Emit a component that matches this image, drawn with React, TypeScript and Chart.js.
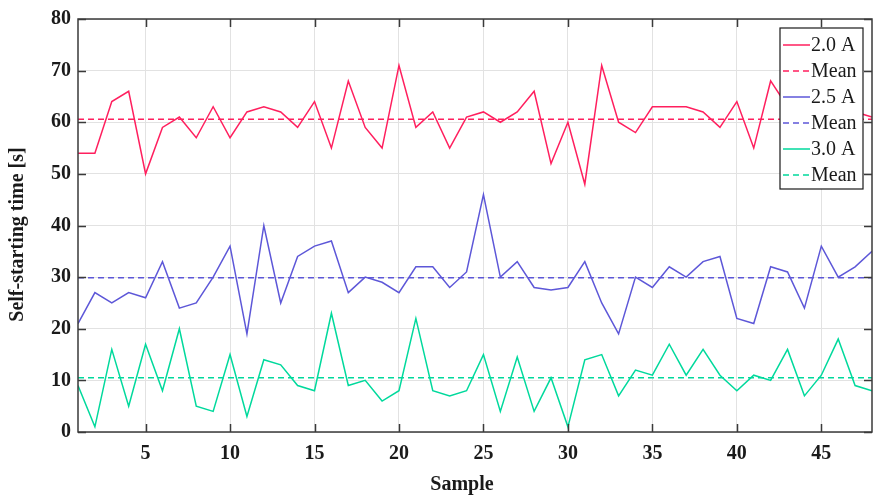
import { useEffect, useRef } from 'react';
import { Chart, registerables, type ChartConfiguration, type Plugin } from 'chart.js';

Chart.register(...registerables);

// ── Design tokens ──────────────────────────────────────────────────────────────

const FONT = '"Liberation Serif", "Times New Roman", serif';

const C = {
  red:   '#ff1f5e',
  blue:  '#5d57d8',
  green: '#00d99c',
  grid:  '#e2e2e2',
  axis:  '#3a3a3a',
  text:  '#1a1a1a',
} as const;

// ── Data ───────────────────────────────────────────────────────────────────────

const SAMPLES = [
  1, 2, 3, 4, 5, 6, 7, 8, 9, 10, 11, 12, 13, 14, 15, 16,
  17, 18, 19, 20, 21, 22, 23, 24, 25, 26, 27, 28, 29, 30, 31, 32,
  33, 34, 35, 36, 37, 38, 39, 40, 41, 42, 43, 44, 45, 46, 47, 48,
];

const TIME_20A = [
  54, 54, 64, 66, 50, 59, 61, 57, 63, 57,
  62, 63, 62, 59, 64, 55, 68, 59, 55, 71,
  59, 62, 55, 61, 62, 60, 62, 66, 52, 60,
  48, 71, 60, 58, 63, 63, 63, 62, 59, 64,
  55, 68, 63, 60, 64, 58, 62, 61,
];

const TIME_25A = [
  21, 27, 25, 27, 26, 33, 24, 25, 30, 36,
  19, 40, 25, 34, 36, 37, 27, 30, 29, 27,
  32, 32, 28, 31, 46, 30, 33, 28, 27.5, 28,
  33, 25, 19, 30, 28, 32, 30, 33, 34, 22,
  21, 32, 31, 24, 36, 30, 32, 35,
];

const TIME_30A = [
  9, 1, 16, 5, 17, 8, 20, 5, 4, 15,
  3, 14, 13, 9, 8, 23, 9, 10, 6, 8,
  22, 8, 7, 8, 15, 4, 14.5, 4, 10.5, 1,
  14, 15, 7, 12, 11, 17, 11, 16, 11, 8,
  11, 10, 16, 7, 11, 18, 9, 8,
];

const MEAN_20A = 60.6;
const MEAN_25A = 29.9;
const MEAN_30A = 10.5;

const X_TICKS = [5, 10, 15, 20, 25, 30, 35, 40, 45];
const Y_TICKS = [0, 10, 20, 30, 40, 50, 60, 70, 80];

// ── Helpers ────────────────────────────────────────────────────────────────────

const toPoints = (values: number[]) => SAMPLES.map((s, i) => ({ x: s, y: values[i] }));
const meanLine = (m: number) => [
  { x: SAMPLES[0], y: m },
  { x: SAMPLES[SAMPLES.length - 1], y: m },
];

// Box frame with inward ticks, axis titles, and legend inside the top-right corner
const framePlugin: Plugin<'line'> = {
  id: 'frameAndLegend',
  afterDatasetsDraw(chart) {
    const { ctx, chartArea: a, scales } = chart;
    const xs = scales.x;
    const ys = scales.y;
    ctx.save();

    // frame
    ctx.strokeStyle = C.axis;
    ctx.lineWidth = 1.5;
    ctx.strokeRect(a.left, a.top, a.right - a.left, a.bottom - a.top);

    // inward ticks
    ctx.beginPath();
    X_TICKS.forEach((v) => {
      const px = Math.round(xs.getPixelForValue(v)) + 0.5;
      ctx.moveTo(px, a.bottom); ctx.lineTo(px, a.bottom - 8);
      ctx.moveTo(px, a.top);    ctx.lineTo(px, a.top + 8);
    });
    Y_TICKS.forEach((v) => {
      const py = Math.round(ys.getPixelForValue(v)) + 0.5;
      ctx.moveTo(a.left, py);  ctx.lineTo(a.left + 8, py);
      ctx.moveTo(a.right, py); ctx.lineTo(a.right - 8, py);
    });
    ctx.stroke();

    // axis titles
    ctx.fillStyle = C.text;
    ctx.font = `bold 20px ${FONT}`;
    ctx.textAlign = 'center';
    ctx.textBaseline = 'middle';
    ctx.fillText('Sample', (a.left + a.right) / 2 - 13, 485);
    ctx.save();
    ctx.translate(18, (a.top + a.bottom) / 2 + 9);
    ctx.rotate(-Math.PI / 2);
    ctx.fillText('Self-starting time [s]', 0, 0);
    ctx.restore();

    // legend
    const boxW = 83;
    const rowH = 26;
    const sets = chart.data.datasets;
    const boxH = rowH * sets.length + 5;
    const bx = a.right - 9 - boxW;
    const by = a.top + 9;
    ctx.fillStyle = '#ffffff';
    ctx.fillRect(bx, by, boxW, boxH);
    ctx.strokeStyle = C.text;
    ctx.lineWidth = 1.2;
    ctx.strokeRect(bx, by, boxW, boxH);

    ctx.font = `20px ${FONT}`;
    ctx.textBaseline = 'middle';
    ctx.textAlign = 'left';
    sets.forEach((ds, i) => {
      const cy = by + 17 + i * rowH;
      ctx.strokeStyle = ds.borderColor as string;
      ctx.lineWidth = 1.5;
      ctx.setLineDash((ds as any).borderDash ?? []);
      ctx.beginPath();
      ctx.moveTo(bx + 3, cy);
      ctx.lineTo(bx + 30, cy);
      ctx.stroke();
      ctx.setLineDash([]);
      ctx.fillStyle = C.text;
      ctx.fillText(ds.label ?? '', bx + 31, cy + 1);
    });

    ctx.restore();
  },
};

// ── Chart ──────────────────────────────────────────────────────────────────────

function SelfStartingChart() {
  const canvasRef = useRef<HTMLCanvasElement>(null);

  useEffect(() => {
    const canvas = canvasRef.current;
    if (!canvas) return;

    const solid = { borderWidth: 1.5, pointRadius: 0, tension: 0, fill: false };
    const dashed = { ...solid, borderDash: [6, 4] };

    const config: ChartConfiguration<'line'> = {
      type: 'line',
      data: {
        datasets: [
          { label: '2.0 A', data: toPoints(TIME_20A), borderColor: C.red,   ...solid },
          { label: 'Mean',  data: meanLine(MEAN_20A), borderColor: C.red,   ...dashed },
          { label: '2.5 A', data: toPoints(TIME_25A), borderColor: C.blue,  ...solid },
          { label: 'Mean',  data: meanLine(MEAN_25A), borderColor: C.blue,  ...dashed },
          { label: '3.0 A', data: toPoints(TIME_30A), borderColor: C.green, ...solid },
          { label: 'Mean',  data: meanLine(MEAN_30A), borderColor: C.green, ...dashed },
        ],
      },
      options: {
        responsive: true,
        maintainAspectRatio: false,
        animation: false,
        layout: { padding: { top: 16, right: 10, left: 0, bottom: 0 } },
        plugins: {
          legend: { display: false },
          tooltip: { enabled: false },
        },
        scales: {
          x: {
            type: 'linear',
            min: 1,
            max: 48,
            afterBuildTicks: (s) => { s.ticks = X_TICKS.map((v) => ({ value: v })); },
            afterFit: (s) => { s.height = 72; },
            grid: { color: C.grid, lineWidth: 1, drawTicks: false },
            border: { display: false },
            ticks: {
              color: C.text,
              padding: 10,
              maxRotation: 0,
              font: { family: FONT, size: 20, weight: 'bold' },
            },
          },
          y: {
            min: 0,
            max: 80,
            afterBuildTicks: (s) => { s.ticks = Y_TICKS.map((v) => ({ value: v })); },
            afterFit: (s) => { s.width = 78; },
            grid: { color: C.grid, lineWidth: 1, drawTicks: false },
            border: { display: false },
            ticks: {
              color: C.text,
              padding: 7,
              font: { family: FONT, size: 20, weight: 'bold' },
            },
          },
        },
      },
      plugins: [framePlugin],
    };

    const chart = new Chart(canvas, config);
    return () => { chart.destroy(); };
  }, []);

  return (
    <div style={{ position: 'fixed', left: 0, top: 0, width: 882, height: 504, background: '#fff' }}>
      <canvas ref={canvasRef} />
    </div>
  );
}

export default function App() {
  return <SelfStartingChart />;
}
